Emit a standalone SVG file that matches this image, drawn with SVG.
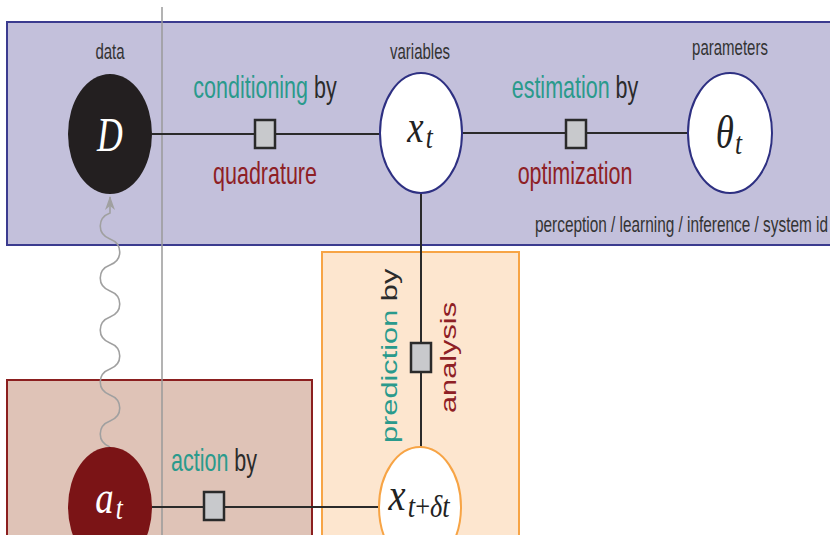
<svg xmlns="http://www.w3.org/2000/svg" width="830" height="535" viewBox="0 0 830 535">
<style>
.lbl{font-family:"Liberation Sans",Arial,sans-serif;font-size:21.5px;fill:#2b2b2b}
.sm{font-family:"Liberation Sans",Arial,sans-serif;font-size:15px;fill:#333}
.teal{fill:#2a9a8c}
.red{fill:#8e2025}
.m{font-family:"Liberation Serif","Times New Roman",serif;font-style:italic;font-size:32px;fill:#222}
.sub{font-size:22px}
.up{font-style:normal}
.edge{stroke:#2a2a2a;stroke-width:2;fill:none}
.fac{fill:#c8c9cc;stroke:#2a2a2a;stroke-width:2.5}
.wnode{fill:#fff;stroke-width:2}
</style>
<defs>
<marker id="arr" viewBox="0 0 14 10" markerWidth="14" markerHeight="10" refX="13" refY="5" orient="auto" markerUnits="userSpaceOnUse">
<path d="M0,0 L14,5 L0,10 L4,5 z" fill="#a0a0a0"/>
</marker>
</defs>
<g id="regions">
<rect id="perception-box" x="7" y="22" width="830" height="223" fill="#c3c0db" stroke="#3b3b8f" stroke-width="2"/>
<rect id="prediction-box" x="322" y="252" width="197" height="290" fill="#fde6cf" stroke="#f7a445" stroke-width="2"/>
<rect id="action-box" x="7" y="380" width="305" height="162" fill="#dfc3b7" stroke="#8b1f1f" stroke-width="2"/>
<line x1="162" y1="7" x2="162" y2="535" stroke="#9a9a9a" stroke-width="1.5"/>
<text class="sm" transform="translate(828,232) scale(1,1.43)" text-anchor="end" textLength="293" lengthAdjust="spacingAndGlyphs">perception / learning / inference / system id</text>
</g>
<g id="connectors">
<line class="edge" x1="152" y1="134" x2="380" y2="134"/>
<line class="edge" x1="462" y1="133" x2="688" y2="133"/>
<line class="edge" x1="421" y1="193" x2="421" y2="447"/>
<line class="edge" x1="152" y1="507" x2="379" y2="507"/>
<path d="M110,447 c -13,-5 -13,-21 0,-26 s 13,-21 0,-26 s -13,-21 0,-26 s 13,-21 0,-26 s -13,-21 0,-26 s 13,-21 0,-26 s -13,-21 0,-26 s 13,-21 0,-26 s -13,-21 0,-26 l 0,-16" fill="none" stroke="#a0a0a0" stroke-width="1.6" marker-end="url(#arr)"/>
</g>
<g id="factor-conditioning">
<rect class="fac" x="255" y="120" width="20" height="28"/>
<text class="lbl" transform="translate(265,98) scale(1,1.43)" text-anchor="middle"><tspan class="teal">conditioning</tspan> by</text>
<text class="lbl red" transform="translate(265,184) scale(1,1.43)" text-anchor="middle">quadrature</text>
</g>
<g id="factor-estimation">
<rect class="fac" x="566" y="120" width="20" height="28"/>
<text class="lbl" transform="translate(575,98) scale(1,1.43)" text-anchor="middle"><tspan class="teal">estimation</tspan> by</text>
<text class="lbl red" transform="translate(575,184) scale(1,1.43)" text-anchor="middle">optimization</text>
</g>
<g id="factor-prediction">
<rect class="fac" x="411" y="343" width="20" height="29"/>
<text class="lbl" transform="translate(397,443) scale(1,1.43) rotate(-90)"><tspan class="teal">prediction</tspan> by</text>
<text class="lbl red" transform="translate(456,413) scale(1,1.43) rotate(-90)">analysis</text>
</g>
<g id="factor-action">
<rect class="fac" x="204" y="492" width="20" height="28"/>
<text class="lbl" transform="translate(214,471) scale(1,1.43)" text-anchor="middle"><tspan class="teal">action</tspan> by</text>
</g>
<g id="node-D">
<ellipse cx="110" cy="134" rx="42" ry="60" fill="#231f20"/>
<text class="m" transform="translate(110,151) scale(1.05,1.43)" text-anchor="middle" style="fill:#fff;font-size:34px">D</text>
<text class="sm" transform="translate(110,59) scale(1,1.43)" text-anchor="middle">data</text>
</g>
<g id="node-xt">
<ellipse class="wnode" cx="421" cy="133" rx="41" ry="60" stroke="#2e3082"/>
<text class="m" transform="translate(420,142) scale(1.15,1.43)" text-anchor="middle">x<tspan class="sub" dx="2" dy="4.5">t</tspan></text>
<text class="sm" transform="translate(420,59) scale(1,1.43)" text-anchor="middle">variables</text>
</g>
<g id="node-theta">
<ellipse class="wnode" cx="730" cy="133" rx="42" ry="60" stroke="#2e3082"/>
<text class="m" transform="translate(729,148) scale(1.15,1.43)" text-anchor="middle">θ<tspan class="sub" dx="1" dy="4">t</tspan></text>
<text class="sm" transform="translate(730,55) scale(1,1.43)" text-anchor="middle">parameters</text>
</g>
<g id="node-xtdt">
<ellipse class="wnode" cx="420" cy="507" rx="41" ry="60" stroke="#f7a445"/>
<text class="m" transform="translate(419,510) scale(1.2,1.43)" text-anchor="middle">x<tspan class="sub" dx="2" dy="5">t<tspan class="up">+</tspan>δt</tspan></text>
</g>
<g id="node-at">
<ellipse cx="110" cy="507" rx="42" ry="60" fill="#7b1416"/>
<text class="m" transform="translate(109,513) scale(1.15,1.43)" text-anchor="middle" style="fill:#fff">a<tspan class="sub" dx="2" dy="4.5">t</tspan></text>
</g>
</svg>
